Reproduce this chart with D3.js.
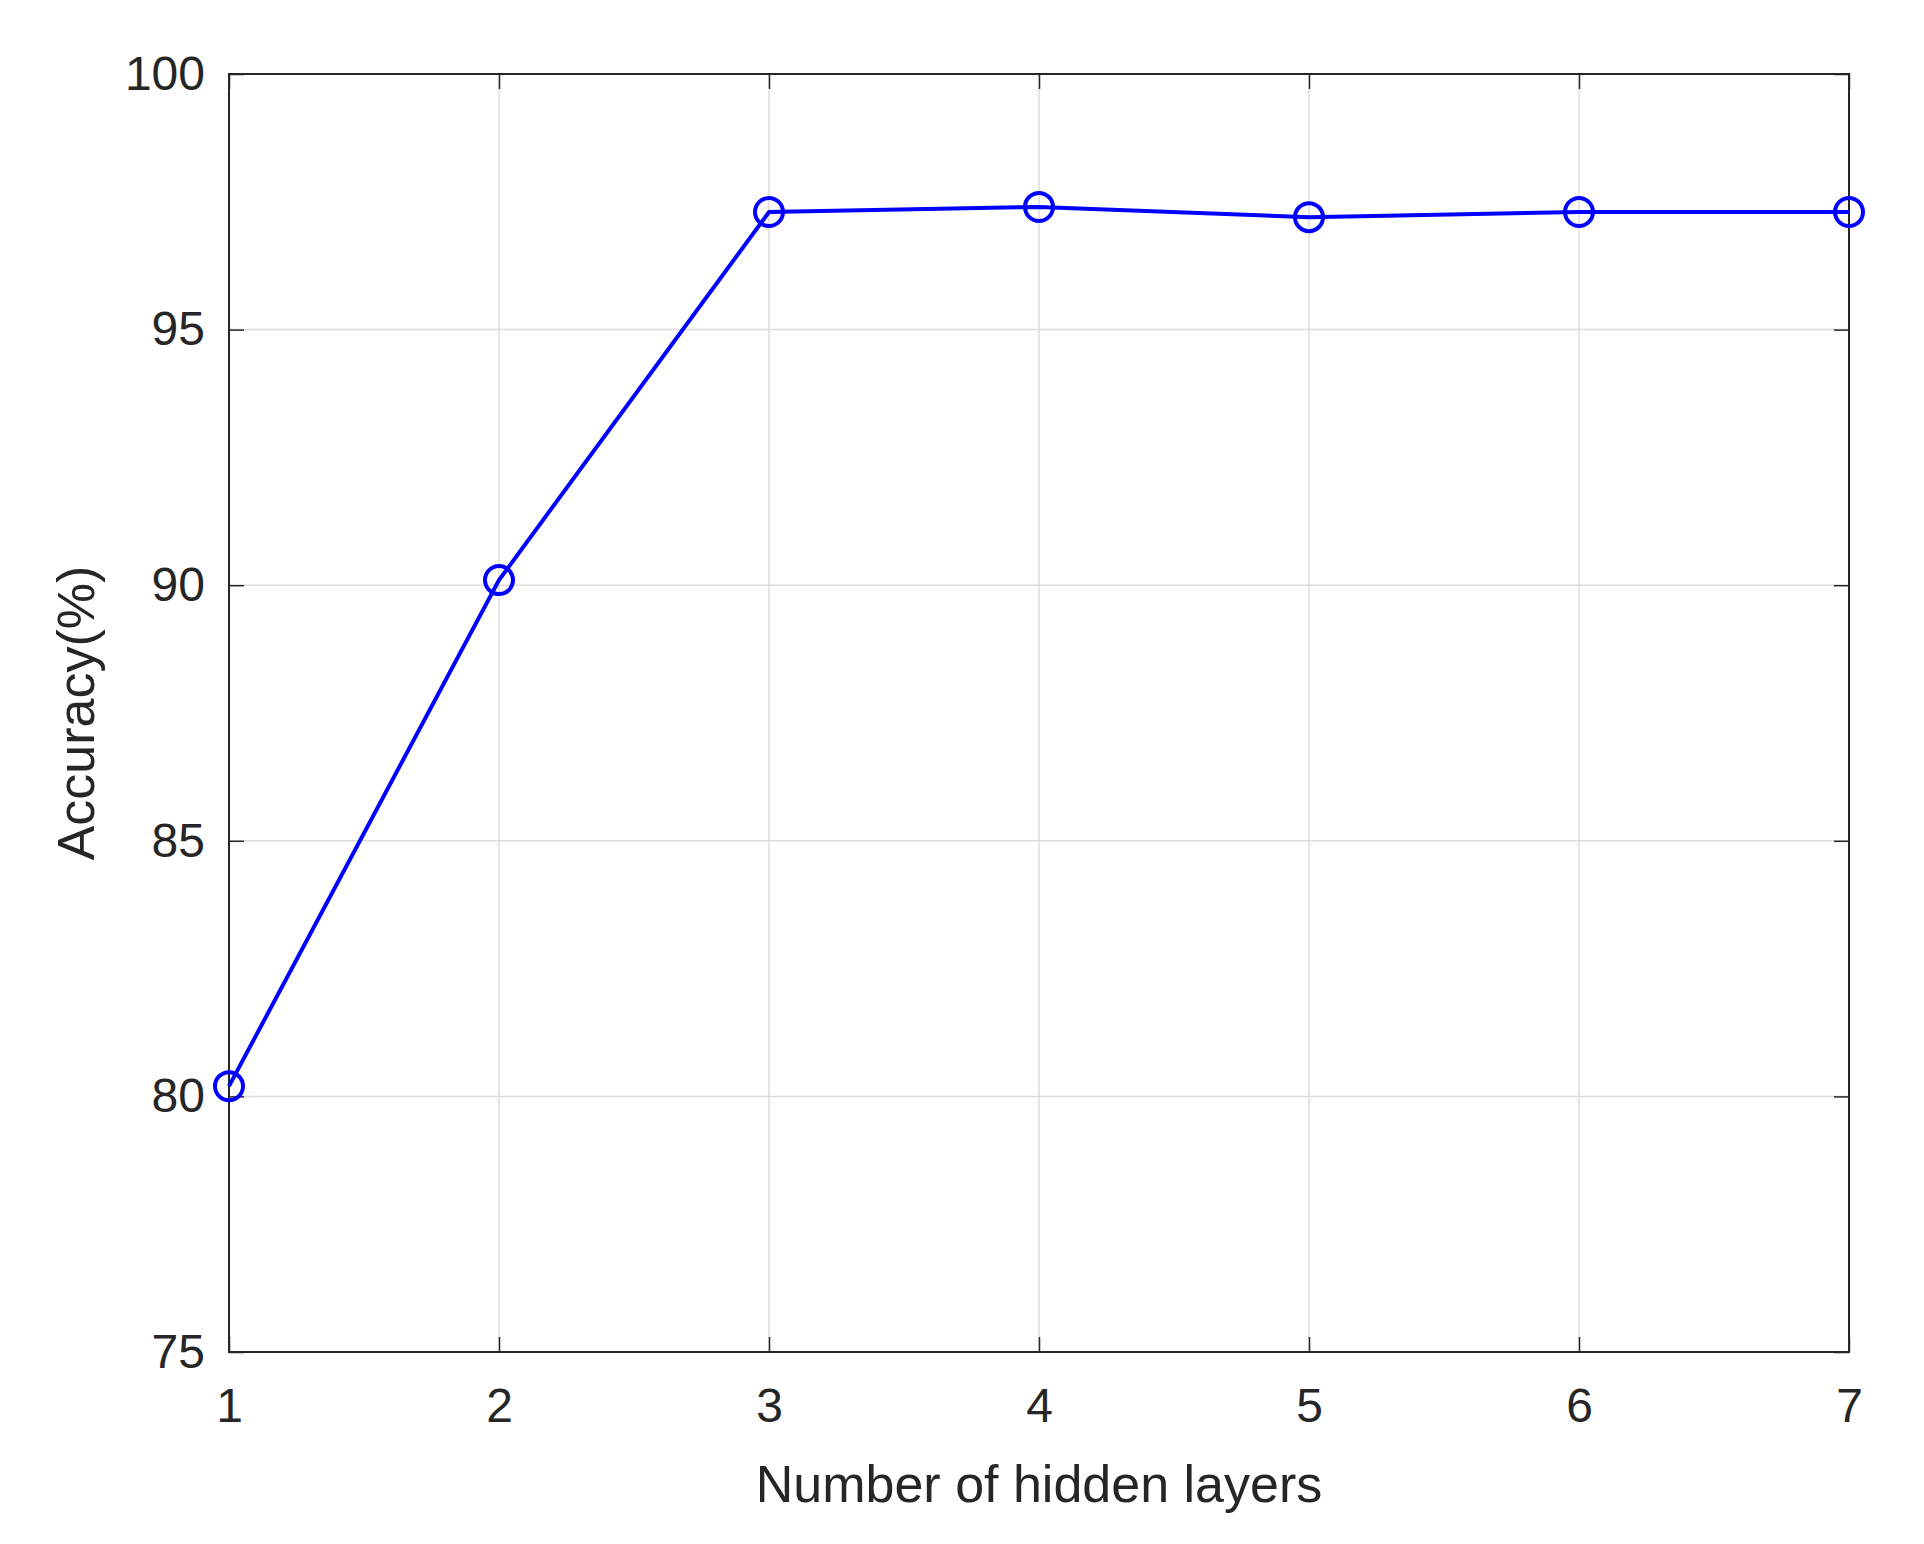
<!DOCTYPE html>
<html>
<head>
<meta charset="utf-8">
<script src="https://cdn.jsdelivr.net/npm/d3@7"></script>
<style>
  body { margin: 0; background: #fff; }
  svg { font-family: "Liberation Sans", Arial, sans-serif; }
</style>
</head>
<body>
<svg id="chart" width="1924" height="1544"></svg>
<script>
// Chart data
const layers = [1, 2, 3, 4, 5, 6, 7];
const accuracy = [80.2, 90.1, 97.3, 97.4, 97.2, 97.3, 97.3];
const yTicks = [75, 80, 85, 90, 95, 100];

const margin = { left: 229, right: 1924 - 1849, top: 74, bottom: 1544 - 1352 };
const width = 1924, height = 1544;
const svg = d3.select("#chart");

const x = d3.scaleLinear().domain([1, 7]).range([margin.left, width - margin.right]);
const y = d3.scaleLinear().domain([75, 100]).range([height - margin.bottom, margin.top]);

// Grid
svg.append("g").selectAll("line").data(layers.slice(1, -1)).join("line")
    .attr("x1", d => x(d)).attr("x2", d => x(d))
    .attr("y1", y(75)).attr("y2", y(100))
    .attr("stroke", "#dcdcdc").attr("stroke-width", 1.5);
svg.append("g").selectAll("line").data(yTicks.slice(1, -1)).join("line")
    .attr("x1", x(1)).attr("x2", x(7))
    .attr("y1", d => y(d)).attr("y2", d => y(d))
    .attr("stroke", "#dcdcdc").attr("stroke-width", 1.5);

// Axes (ticks inside, mirrored on top/right)
const styleAxis = g => {
    g.select(".domain").remove();
    g.selectAll(".tick line").attr("stroke", "#262626").attr("stroke-width", 1.5);
    g.selectAll(".tick text").attr("fill", "#262626").style("font-size", "48px");
};
svg.append("g").attr("transform", `translate(0,${y(75)})`)
    .call(d3.axisBottom(x).tickValues(layers).tickFormat(d3.format("d")).tickSizeInner(-15).tickPadding(36))
    .call(styleAxis);
svg.append("g").attr("transform", `translate(0,${y(100)})`)
    .call(d3.axisTop(x).tickValues(layers).tickFormat("").tickSizeInner(-15))
    .call(styleAxis);
svg.append("g").attr("transform", `translate(${x(1)},0)`)
    .call(d3.axisLeft(y).tickValues(yTicks).tickSizeInner(-15).tickPadding(24))
    .call(styleAxis);
svg.append("g").attr("transform", `translate(${x(7)},0)`)
    .call(d3.axisRight(y).tickValues(yTicks).tickFormat("").tickSizeInner(-15))
    .call(styleAxis);

svg.append("rect")
    .attr("x", x(1)).attr("y", y(100))
    .attr("width", x(7) - x(1)).attr("height", y(75) - y(100))
    .attr("fill", "none").attr("stroke", "#262626").attr("stroke-width", 2);

// Series
const pts = layers.map((l, i) => [l, accuracy[i]]);
svg.append("path").datum(pts)
    .attr("fill", "none").attr("stroke", "#0000ff").attr("stroke-width", 4)
    .attr("d", d3.line().x(d => x(d[0])).y(d => y(d[1])));
svg.append("g").selectAll("circle").data(pts).join("circle")
    .attr("cx", d => x(d[0])).attr("cy", d => y(d[1])).attr("r", 14)
    .attr("fill", "none").attr("stroke", "#0000ff").attr("stroke-width", 4);

// Labels
svg.append("text")
    .attr("x", (x(1) + x(7)) / 2).attr("y", 1502)
    .attr("text-anchor", "middle").attr("fill", "#262626")
    .style("font-size", "52px").text("Number of hidden layers");
svg.append("text")
    .attr("transform", `translate(94,${(y(75) + y(100)) / 2}) rotate(-90)`)
    .attr("text-anchor", "middle").attr("fill", "#262626")
    .style("font-size", "52px").text("Accuracy(%)");
</script>
</body>
</html>
